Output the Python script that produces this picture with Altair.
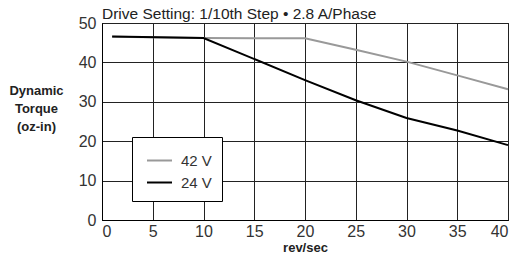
import altair as alt
import pandas as pd

rev_42 = [1, 10, 20, 25, 30, 35, 40]
torque_42 = [46.5, 46.2, 46.1, 43.2, 40.2, 36.7, 33.2]
rev_24 = [1, 10, 20, 25, 30, 35, 40]
torque_24 = [46.6, 46.2, 35.5, 30.4, 25.9, 22.7, 19.0]
series = ["42 V", "24 V"]
colors = ["#999999", "#000000"]

df42 = pd.DataFrame({"rev": rev_42, "torque": torque_42, "series": series[0]})
df24 = pd.DataFrame({"rev": rev_24, "torque": torque_24, "series": series[1]})

FONT = "Liberation Sans, Arial, sans-serif"

color = alt.Color(
    "series:N",
    scale=alt.Scale(domain=series, range=colors),
    legend=alt.Legend(
        title=None,
        orient="none",
        legendX=30,
        legendY=114,
        direction="vertical",
        symbolType="stroke",
        symbolSize=625,
        symbolStrokeWidth=2,
        symbolOffset=4,
        labelFontSize=15,
        labelFont=FONT,
        labelColor="#333333",
        labelOffset=8,
        rowPadding=-5,
        padding=10,
        strokeColor="#000000",
        fillColor="#ffffff",
    ),
)

x = alt.X(
    "rev:Q",
    scale=alt.Scale(domain=[0, 40], nice=False),
    axis=alt.Axis(
        values=[0, 5, 10, 15, 20, 25, 30, 35, 40],
        title="rev/sec",
        titleFont=FONT,
        titleFontSize=13,
        titleFontWeight="bold",
        titleColor="#222222",
        titlePadding=2,
        labelFont=FONT,
        labelFontSize=16,
        labelColor="#333333",
        labelPadding=3,
        ticks=False,
        domainColor="#000000",
        gridColor="#222222",
        gridWidth=1,
        gridOpacity=1,
    ),
)
y = alt.Y(
    "torque:Q",
    scale=alt.Scale(domain=[0, 50], nice=False),
    axis=alt.Axis(
        values=[0, 10, 20, 30, 40, 50],
        title=["Dynamic", "Torque", "(oz-in)"],
        titleFont=FONT,
        titleFontSize=13,
        titleFontWeight="bold",
        titleColor="#222222",
        titleAngle=0,
        titleAlign="center",
        titleBaseline="top",
        titleX=-66,
        titleY=61,
        titleLineHeight=18,
        labelFont=FONT,
        labelFontSize=16,
        labelColor="#333333",
        labelPadding=6,
        ticks=False,
        domainColor="#000000",
        gridColor="#222222",
        gridWidth=1,
        gridOpacity=1,
    ),
)

l42 = alt.Chart(df42).mark_line(strokeWidth=2).encode(x=x, y=y, color=color)
l24 = alt.Chart(df24).mark_line(strokeWidth=2).encode(x=x, y=y, color=color)

chart = (
    alt.layer(l42, l24)
    .properties(
        width=406,
        height=197,
        autosize=alt.AutoSizeParams(type="none"),
        padding={"left": 94, "top": 15, "right": 3, "bottom": 34},
        title=alt.Title(
            "Drive Setting: 1/10th Step \u2022 2.8 A/Phase",
            anchor="start",
            frame="group",
            font=FONT,
            fontSize=15.5,
            fontWeight="normal",
            color="#222222",
            baseline="alphabetic",
            offset=0,
            dy=19,
        ),
    )
    .configure_view(stroke="#000000", strokeWidth=1)
)

chart.save("out.html", embed_options={"renderer": "svg", "actions": False})
